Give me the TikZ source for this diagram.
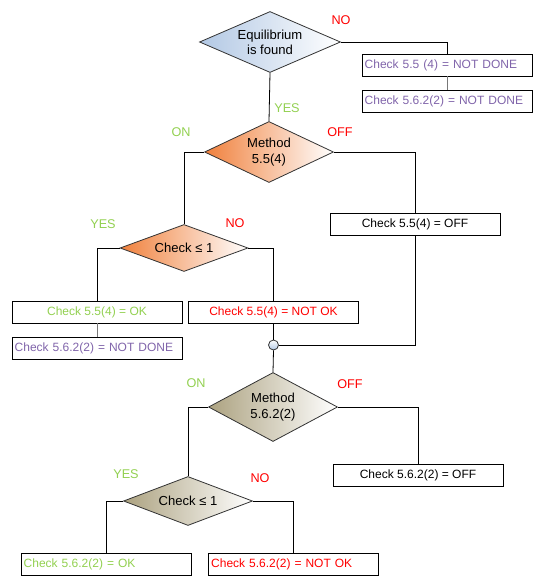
\documentclass[tikz,border=0pt]{standalone}
\usepackage{fontspec}
\setmainfont{Liberation Sans}
\usepackage{tikz}
\usetikzlibrary{shapes.geometric,positioning}
\usepackage{xcolor}
\definecolor{flowblue}{RGB}{178,200,228}
\definecolor{floworange}{RGB}{240,128,60}
\definecolor{flowtan}{RGB}{172,162,128}
\definecolor{flowgreen}{RGB}{146,208,80}
\definecolor{flowred}{RGB}{255,0,0}
\definecolor{flowpurple}{RGB}{128,100,170}
\definecolor{flowgray}{RGB}{120,120,120}

\tikzset{
  decision/.style={diamond, draw=black!80, line width=0.6pt, inner sep=0pt,
    align=center, right color=white, font=\fontsize{9.8}{11.5}\selectfont},
  result/.style={rectangle, draw=black, line width=0.6pt, minimum width=170*0.75pt,
    minimum height=22*0.75pt, inner sep=2pt},
  leftresult/.style={result, text width=170*0.75pt-4pt, align=left},
  branch/.style={font=\fontsize{9.5}{11}\selectfont},
  link/.style={line width=0.6pt, draw=black},
  softlink/.style={line width=0.6pt, draw=flowgray}
}

\begin{document}
\begin{tikzpicture}[x=0.75pt, y=-0.75pt, font=\fontsize{9}{12}\selectfont]
\useasboundingbox (0,0) rectangle (548,588);

% decisions
\node[decision, left color=flowblue, minimum width=141*0.75pt, minimum height=61*0.75pt, aspect=2.3]
  (equil) at (270,42) {Equilibrium\\is found};
\node[decision, left color=floworange, minimum width=129*0.75pt, minimum height=61*0.75pt, aspect=2.1]
  (meth1) at (269,152) {Method\\5.5(4)};
\node[decision, left color=floworange, minimum width=128*0.75pt, minimum height=47*0.75pt, aspect=2.7]
  (chk1) at (184,248) {Check ≤ 1};
\node[decision, left color=flowtan, minimum width=129*0.75pt, minimum height=69*0.75pt, aspect=1.9]
  (meth2) at (273,407) {Method\\5.6.2(2)};
\node[decision, left color=flowtan, minimum width=129*0.75pt, minimum height=49*0.75pt, aspect=2.6]
  (chk2) at (188,501) {Check ≤ 1};

% results
\node[leftresult, text=flowpurple] (nd55) at (447,65) {Check 5.5 (4) = NOT DONE};
\node[leftresult, text=flowpurple] (nd562a) at (447,101) {Check 5.6.2(2) = NOT DONE};
\node[result] (off55) at (415,224) {Check 5.5(4) = OFF};
\node[result, text=flowgreen] (ok55) at (97,312) {Check 5.5(4) = OK};
\node[leftresult, text=flowpurple] (nd562b) at (97,348) {Check 5.6.2(2) = NOT DONE};
\node[result, text=flowred] (nok55) at (273.5,312) {Check 5.5(4) = NOT OK};
\node[circle, draw=black!80, line width=0.6pt, inner sep=0pt, minimum size=10*0.75pt,
  top color=white, bottom color=flowblue] (join) at (273.5,345) {};
\node[result] (off562) at (418,475) {Check 5.6.2(2) = OFF};
\node[leftresult, text=flowgreen] (ok562) at (106,564) {Check 5.6.2(2) = OK};
\node[leftresult, text=flowred] (nok562) at (293.5,564) {Check 5.6.2(2) = NOT OK};

% branch labels
\node[branch, text=flowred] (lblno0) at (341,20) {NO};
\node[branch, text=flowgreen] (lblyes0) at (287,108) {YES};
\node[branch, text=flowgreen] (lblon1) at (181,132) {ON};
\node[branch, text=flowred] (lbloff1) at (340,132) {OFF};
\node[branch, text=flowgreen] (lblyes1) at (103,224) {YES};
\node[branch, text=flowred] (lblno1) at (235,223) {NO};
\node[branch, text=flowgreen] (lblon2) at (196,383) {ON};
\node[branch, text=flowred] (lbloff2) at (350,384) {OFF};
\node[branch, text=flowgreen] (lblyes2) at (126,474) {YES};
\node[branch, text=flowred] (lblno2) at (260,478) {NO};

% connectors
\draw[link] (equil.east) -| (nd55.north);
\draw[softlink] (nd55.south) -- (nd562a.north);
\draw[link] (equil.south) -- (meth1.north);
\draw[link] (meth1.west) -| (chk1.north);
\draw[link] (meth1.east) -| (off55.north);
\draw[link] (chk1.west) -| (ok55.north);
\draw[softlink] (ok55.south) -- (nd562b.north);
\draw[link] (chk1.east) -| (nok55.north);
\draw[link] (nok55.south) -- (join.north);
\draw[link] (off55.south) |- (join.east);
\draw[link] (join.south) -- (meth2.north);
\draw[link] (meth2.west) -| (chk2.north);
\draw[link] (meth2.east) -| (off562.north);
\draw[link] (chk2.west) -| (ok562.north);
\draw[link] (chk2.east) -| (nok562.north);
\end{tikzpicture}
\end{document}
